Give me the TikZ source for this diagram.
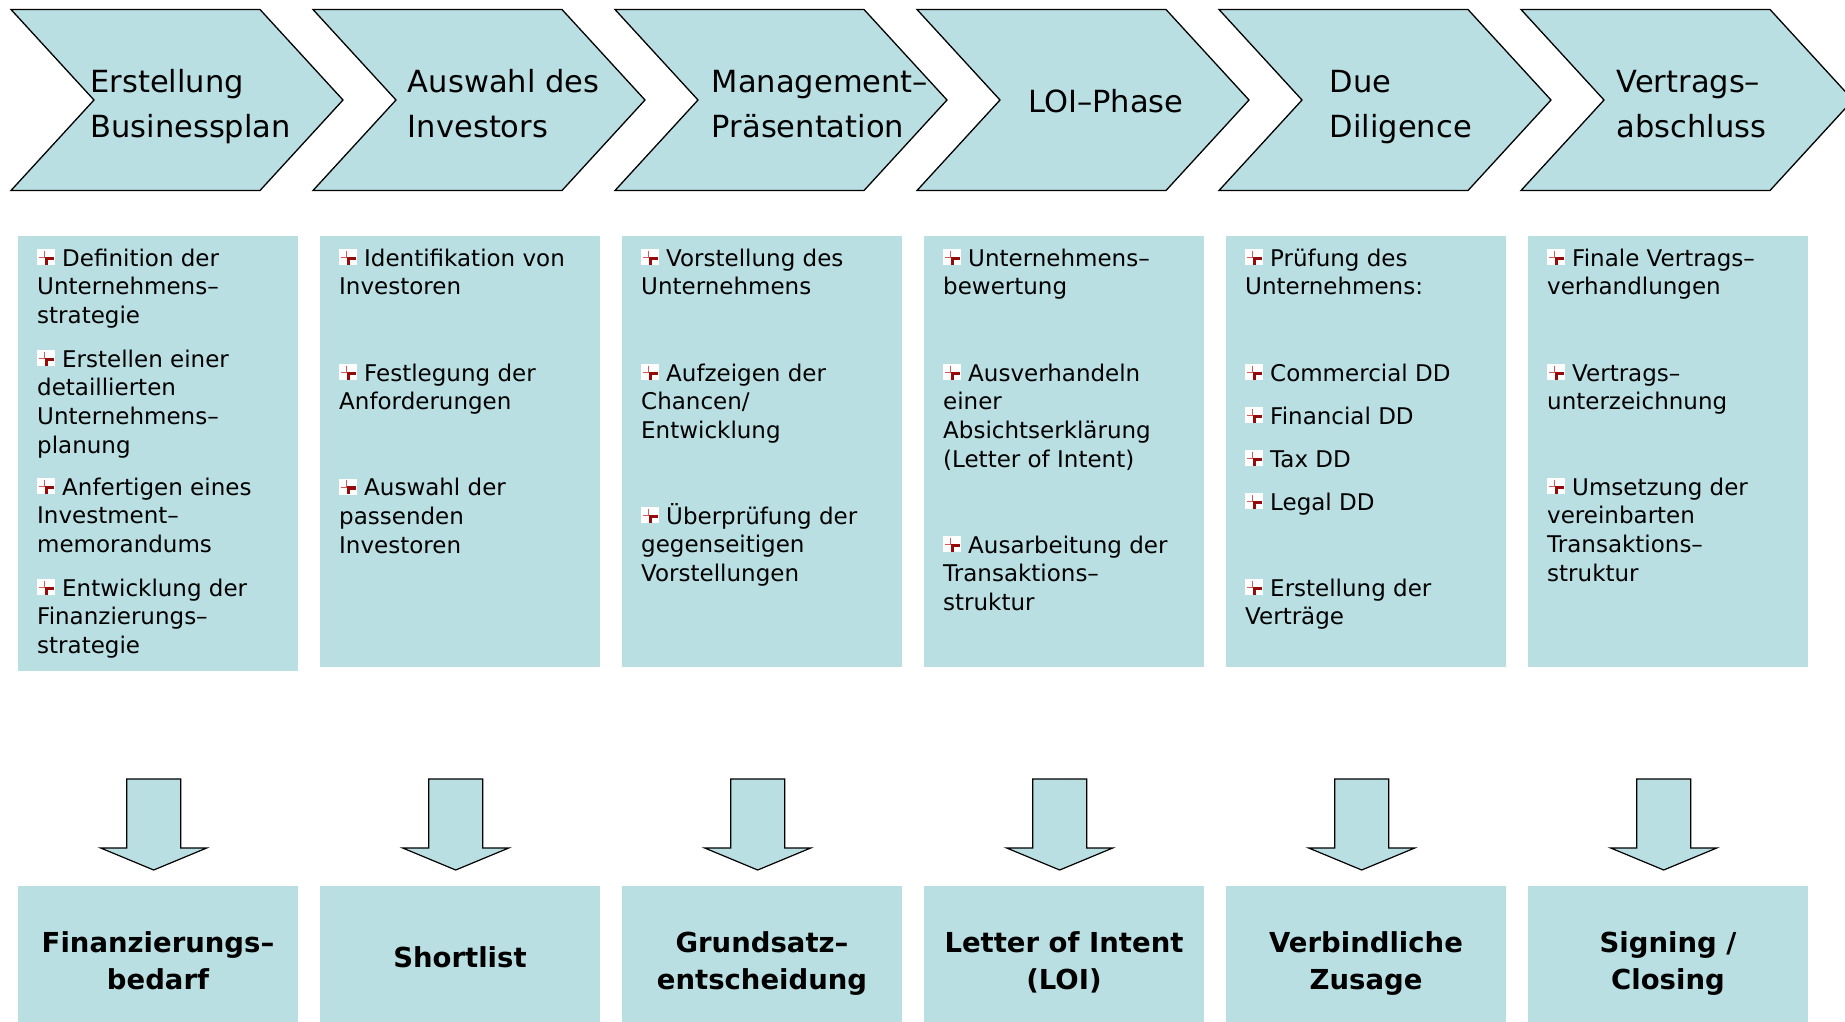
\documentclass[tikz,border=0pt]{standalone}
\usepackage{fontspec}
\setmainfont{DejaVu Sans}
\definecolor{aqua}{RGB}{185,223,227}
\definecolor{icored}{RGB}{210,90,90}
\definecolor{icodark}{RGB}{150,10,10}
\newcommand{\bicon}{\tikz[x=1pt,y=1pt,baseline=0pt]{\fill[white] (0,1) rectangle (18,17); \draw[icored,line width=0.6pt] (1.3,9)--(7.3,9) (7.3,15.7)--(7.3,9); \fill[icodark] (7.3,6.3) rectangle (16.3,9.7); \fill[icodark] (7.3,1.7) rectangle (10.7,9.7);}\hspace{7pt}}
\newcommand{\sr}[1]{\rule{0pt}{#1}}
\begin{document}
\begin{tikzpicture}[x=1pt,y=-1pt,
  chev/.style={fill=aqua,draw=black,line width=1.3pt,line join=miter},
  darrow/.style={fill=aqua,draw=black,line width=1.2pt,line join=miter},
  chevtxt/.style={anchor=north,align=left,inner sep=0pt,font=\fontsize{30.5}{45}\selectfont},
  itxt/.style={anchor=north west,align=left,inner sep=0pt,font=\fontsize{23}{28.7}\selectfont},
  restxt/.style={anchor=north,align=center,inner sep=0pt,font=\bfseries\fontsize{27.5}{37}\selectfont}]
\path[use as bounding box] (0,0) rectangle (1845,1021);
\clip (0,0) rectangle (1845,1021);
% chevrons
\foreach \i in {0,...,5}{
  \pgfmathsetmacro\xo{11+302*\i}
  \draw[chev] (\xo,9.5) -- ++(249,0) -- ++(83,90.5) -- ++(-83,90.5) -- ++(-249,0) -- ++(83,-90.5) -- cycle;
}
\node[chevtxt] (c1) at (190.6,62) {\sr{30pt}Erstellung\\Businessplan};
\node[chevtxt] (c2) at (503.6,62) {\sr{30pt}Auswahl des\\Investors};
\node[chevtxt] (c3) at (820,62) {\sr{30pt}Management–\\Präsentation};
\node[chevtxt] (c4) at (1106,82.5) {\sr{30pt}LOI–Phase};
\node[chevtxt] (c5) at (1400.8,62) {\sr{30pt}Due\\Diligence};
\node[chevtxt] (c6) at (1691.5,62) {\sr{30pt}Vertrags–\\abschluss};
% panels
\fill[aqua] (18,236) rectangle ++(280,435);
\foreach \i in {1,...,5}{
  \fill[aqua] (18+302*\i,236) rectangle ++(280,430.5);
}
% box 1
\node[itxt] (a1) at (37,242) {\sr{24pt}\bicon Definition der\\Unternehmens–\\strategie};
\node[itxt] (a2) at (37,343) {\sr{24pt}\bicon Erstellen einer\\detaillierten\\Unternehmens–\\planung};
\node[itxt] (a3) at (37,471) {\sr{24pt}\bicon Anfertigen eines\\Investment–\\memorandums};
\node[itxt] (a4) at (37,572) {\sr{24pt}\bicon Entwicklung der\\Finanzierungs–\\strategie};
% box 2
\node[itxt] (b1) at (339,242) {\sr{24pt}\bicon Identifikation von\\Investoren};
\node[itxt] (b2) at (339,357) {\sr{24pt}\bicon Festlegung der\\Anforderungen};
\node[itxt] (b3) at (339,471.6) {\sr{24pt}\bicon Auswahl der\\passenden\\Investoren};
% box 3
\node[itxt] (d1) at (641,242) {\sr{24pt}\bicon Vorstellung des\\Unternehmens};
\node[itxt] (d2) at (641,357) {\sr{24pt}\bicon Aufzeigen der\\Chancen/\\Entwicklung};
\node[itxt] (d3) at (641,500) {\sr{24pt}\bicon Überprüfung der\\gegenseitigen\\Vorstellungen};
% box 4
\node[itxt] (e1) at (943,242) {\sr{24pt}\bicon Unternehmens–\\bewertung};
\node[itxt] (e2) at (943,357) {\sr{24pt}\bicon Ausverhandeln\\einer\\Absichtserklärung\\(Letter of Intent)};
\node[itxt] (e3) at (943,529) {\sr{24pt}\bicon Ausarbeitung der\\Transaktions–\\struktur};
% box 5
\node[itxt] (f1) at (1245,242) {\sr{24pt}\bicon Prüfung des\\Unternehmens:};
\node[itxt] (f2) at (1245,357) {\sr{24pt}\bicon Commercial DD};
\node[itxt] (f3) at (1245,400) {\sr{24pt}\bicon Financial DD};
\node[itxt] (f4) at (1245,443) {\sr{24pt}\bicon Tax DD};
\node[itxt] (f5) at (1245,486) {\sr{24pt}\bicon Legal DD};
\node[itxt] (f6) at (1245,572) {\sr{24pt}\bicon Erstellung der\\Verträge};
% box 6
\node[itxt] (g1) at (1547,242) {\sr{24pt}\bicon Finale Vertrags–\\verhandlungen};
\node[itxt] (g2) at (1547,357) {\sr{24pt}\bicon Vertrags–\\unterzeichnung};
\node[itxt] (g3) at (1547,471) {\sr{24pt}\bicon Umsetzung der\\vereinbarten\\Transaktions–\\struktur};
% down arrows
\foreach \i in {0,...,5}{
  \pgfmathsetmacro\cx{153.7+302*\i}
  \draw[darrow] (\cx-27,779) -- (\cx+27,779) -- (\cx+27,848) -- (\cx+53,848) -- (\cx,870) -- (\cx-53,848) -- (\cx-27,848) -- cycle;
}
% result boxes
\foreach \i in {0,...,5}{
  \fill[aqua] (18+302*\i,886) rectangle ++(280,140);
}
\node[restxt] (r1) at (158,926) {\sr{26pt}Finanzierungs–\\bedarf};
\node[restxt] (r2) at (460,941) {\sr{26pt}Shortlist};
\node[restxt] (r3) at (762,926) {\sr{26pt}Grundsatz–\\entscheidung};
\node[restxt] (r4) at (1064,926) {\sr{26pt}Letter of Intent\\(LOI)};
\node[restxt] (r5) at (1366,926) {\sr{26pt}Verbindliche\\Zusage};
\node[restxt] (r6) at (1668,926) {\sr{26pt}Signing /\\Closing};
\end{tikzpicture}
\end{document}
